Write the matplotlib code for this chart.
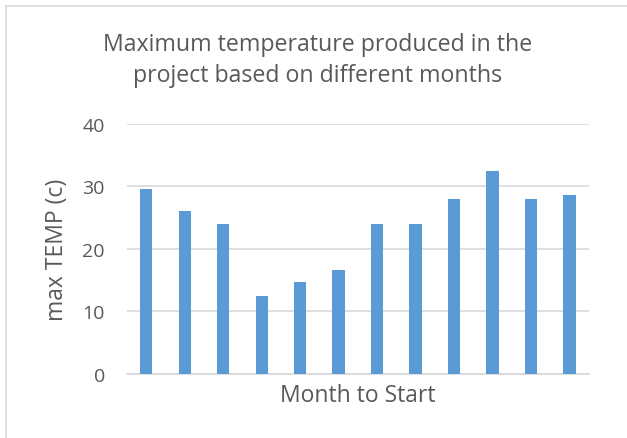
import matplotlib.pyplot as plt
from matplotlib.lines import Line2D

months = list(range(1, 13))
max_temp = [29.6, 26.0, 24.0, 12.5, 14.6, 16.6, 24.0, 24.0, 28.0, 32.4, 28.0, 28.6]
y_ticks = [0, 10, 20, 30, 40]

text_color = "#595959"
grid_color = "#D9D9D9"
bar_color = "#5B9BD5"

plt.rcParams['font.family'] = ['Open Sans', 'DejaVu Sans']

fig = plt.figure(figsize=(6.27, 4.39), dpi=100)
ax = fig.add_axes([0.2026, 0.1465, 0.7364, 0.5695])

ax.bar(months, max_temp, width=0.32, color=bar_color, zorder=3)

ax.set_xlim(0.5, 12.5)
ax.set_ylim(0, 40)
ax.set_yticks(y_ticks)
ax.set_xticks([])
ax.tick_params(axis='y', length=0, labelsize=14, labelcolor=text_color, pad=16)
ax.yaxis.grid(True, color=grid_color, linewidth=1.2, zorder=0)

for side in ["top", "right", "left"]:
    ax.spines[side].set_visible(False)
ax.spines["bottom"].set_color(grid_color)
ax.spines["bottom"].set_linewidth(1.2)

ax.set_ylabel("max TEMP (c)", fontsize=16.5, color=text_color, va="center")
ax.yaxis.set_label_coords(-0.152, 0.5)
ax.set_xlabel("Month to Start", fontsize=16.5, color=text_color, va="center")
ax.xaxis.set_label_coords(0.5, -0.085)

fig.text(0.507, 0.862, "Maximum temperature produced in the\nproject based on different months",
         ha="center", va="center", fontsize=16.7, color=text_color, linespacing=1.38)

# chart border: only the left and top edges fall inside the picture
x0, y1 = 5.5 / 627, 1 - 6.5 / 439
fig.add_artist(Line2D([x0, x0], [0, y1], transform=fig.transFigure, color=grid_color, linewidth=1.2))
fig.add_artist(Line2D([x0, 1], [y1, y1], transform=fig.transFigure, color=grid_color, linewidth=1.2))

fig.savefig("out.png", dpi=100)
